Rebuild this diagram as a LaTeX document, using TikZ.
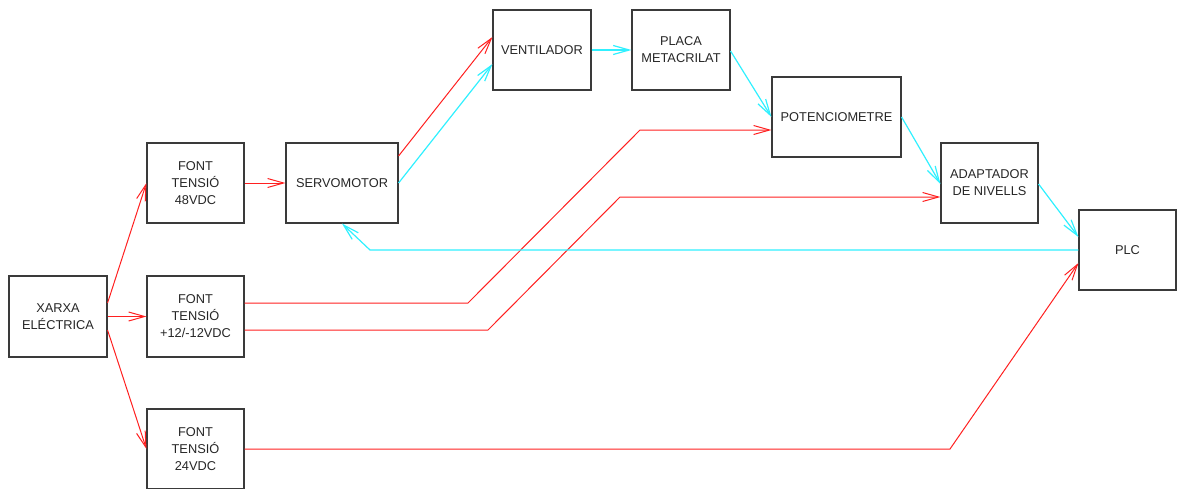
\documentclass[tikz,border=0pt]{standalone}
\usepackage{fontspec}
\setmainfont{Liberation Sans}
\usetikzlibrary{arrows.meta}
\definecolor{boxline}{HTML}{3A3A3A}
\definecolor{redl}{HTML}{FF2020}
\definecolor{cyanl}{HTML}{30F0FF}
\tikzset{
  blk/.style={draw=boxline, line width=1.1pt, rectangle, inner sep=0pt, align=center,
    font=\fontsize{12.8}{17}\selectfont, text=black!85},
  rw/.style={draw=redl, line width=1pt, -{Straight Barb[length=16pt,width=9pt]}},
  cw/.style={draw=cyanl, line width=1.2pt, -{Straight Barb[length=16pt,width=9pt]}},
  rp/.style={draw=redl, line width=1pt},
}
\begin{document}
\begin{tikzpicture}[x=1pt,y=-1pt]
\useasboundingbox (0,0) rectangle (1178,488);
\node[blk, minimum width=98pt, minimum height=81pt] (xarxa) at (58,316.5) {XARXA\\ELÉCTRICA};
\node[blk, minimum width=97pt, minimum height=80pt] (f48) at (195.5,183) {FONT\\TENSIÓ\\48VDC};
\node[blk, minimum width=97pt, minimum height=81pt] (f12) at (195.5,316.5) {FONT\\TENSIÓ\\+12/-12VDC};
\node[blk, minimum width=97pt, minimum height=80pt] (f24) at (195.5,449) {FONT\\TENSIÓ\\24VDC};
\node[blk, minimum width=112pt, minimum height=80pt] (srv) at (342,183) {SERVOMOTOR};
\node[blk, minimum width=98pt, minimum height=80pt] (vent) at (542,50) {VENTILADOR};
\node[blk, minimum width=98pt, minimum height=80pt] (placa) at (681,50) {PLACA\\METACRILAT};
\node[blk, minimum width=129pt, minimum height=80pt] (pot) at (836.5,117) {POTENCIOMETRE};
\node[blk, minimum width=97pt, minimum height=80pt] (adap) at (989.5,183) {ADAPTADOR\\DE NIVELLS};
\node[blk, minimum width=97pt, minimum height=80pt] (plc) at (1127.5,250) {PLC};

\coordinate (b1) at (468,303);
\coordinate (b2) at (640,130);
\coordinate (b3) at (488,330);
\coordinate (b4) at (620,197);
\coordinate (b5) at (370,250);
\coordinate (b6) at (950,449);

% red power lines
\draw[rw] ([yshift=13.5pt]xarxa.east) -- (f48.west);
\draw[rw] (xarxa.east) -- (f12.west);
\draw[rw] ([yshift=-13.5pt]xarxa.east) -- (f24.west);
\draw[rw] (f48.east) -- (srv.west);
\draw[rw] ([yshift=27pt]srv.east) -- ([yshift=13pt]vent.west);
\draw[rw] ([yshift=13.5pt]f12.east) -- (b1) -- (b2) -- ([yshift=-13pt]pot.west);
\draw[rw] ([yshift=-13.5pt]f12.east) -- (b3) -- (b4) -- ([yshift=-14pt]adap.west);
\draw[rw] (f24.east) -- (b6) -- ([yshift=-13pt]plc.west);

% cyan signal lines
\draw[cw] (srv.east) -- ([yshift=-14pt]vent.west);
\draw[cw] (vent.east) -- (placa.west);
\draw[cw] ([yshift=-1pt]placa.east) -- (pot.west);
\draw[cw] (pot.east) -- ([yshift=-1pt]adap.west);
\draw[cw] ([yshift=-1pt]adap.east) -- ([yshift=13pt]plc.west);
\draw[cw] (plc.west) -- (b5) -- (srv.south);
\end{tikzpicture}
\end{document}
